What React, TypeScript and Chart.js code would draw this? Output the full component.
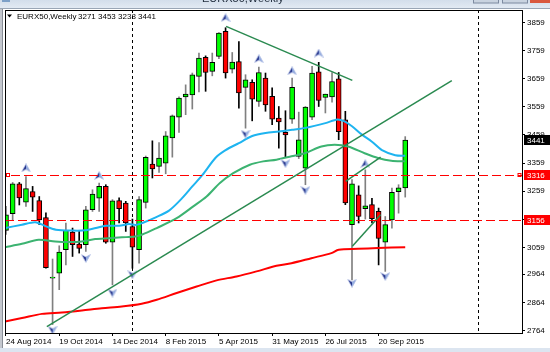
import React, { useEffect, useRef } from 'react';
import { Chart, registerables } from 'chart.js';

Chart.register(...registerables);

// ---------- data ----------
const opens = [3120,3179,3285,3220,3258,3226,3165,2950,2968,3051,3114,3071,3069,3193,3234,3276,3078,3226,3217,3133,3051,3219,3355,3347,3359,3448,3522,3594,3601,3667,3735,3685,3738,3827,3693,3720,3628,3646,3578,3661,3596,3519,3468,3515,3383,3341,3522,3683,3592,3594,3658,3513,3140,3246,3197,3211,3187,3078,3157,3257,3271];
const highs = [3205,3290,3290,3311,3276,3240,3182,3018,3065,3146,3128,3116,3205,3264,3288,3282,3229,3235,3223,3160,3240,3384,3438,3432,3471,3530,3594,3637,3679,3750,3740,3750,3823,3840,3752,3791,3673,3655,3700,3679,3626,3560,3545,3661,3540,3560,3703,3717,3604,3681,3681,3543,3300,3278,3335,3234,3199,3169,3270,3282,3453];
const lows = [3105,3157,3210,3205,3187,3140,2985,2785,2909,2997,3027,3039,3045,3187,3187,3074,2926,3146,3116,2985,3003,3199,3306,3326,3321,3380,3468,3531,3551,3612,3614,3669,3730,3661,3679,3554,3483,3509,3560,3543,3495,3412,3380,3500,3375,3282,3513,3560,3537,3575,3442,3211,2944,3146,3160,3146,2997,2974,3128,3181,3238];
const closes = [3175,3285,3235,3268,3238,3157,2987,2954,3043,3120,3069,3056,3193,3249,3276,3078,3225,3197,3146,3060,3229,3379,3338,3377,3456,3527,3590,3604,3673,3732,3681,3717,3821,3679,3718,3608,3655,3586,3681,3566,3515,3505,3459,3628,3442,3558,3679,3582,3604,3649,3471,3217,3285,3169,3207,3161,3091,3140,3255,3271,3441];

const dateLabels = ['24 Aug 2014','19 Oct 2014','14 Dec 2014','8 Feb 2015','5 Apr 2015','31 May 2015','26 Jul 2015','20 Sep 2015'];
const dateLabelBars = [0, 8, 16, 24, 32, 40, 48, 56];
const priceTicks = [3859, 3759, 3659, 3559, 3459, 3359, 3259, 3159, 3059, 2964, 2864, 2764];

const blueMa: [number, number][] = [[-0.15,3128],[2.4,3140],[4.4,3149],[6,3134],[7.5,3122],[10,3119],[12,3120],[13.5,3128],[15,3136],[17,3136],[18.5,3142],[19.5,3139],[20.5,3146],[22.5,3166],[24.5,3190],[26.3,3230],[28,3276],[29.5,3316],[31.5,3378],[33,3405],[35,3430],[37,3455],[39,3466],[41,3471],[43,3477],[45,3484],[48,3501],[49.8,3514],[50.8,3508],[52,3490],[53.5,3460],[55,3435],[56.5,3405],[58.5,3387],[60,3385]];
const greenMa: [number, number][] = [[-0.15,3060],[2.4,3072],[4.9,3086],[7.4,3080],[9.4,3078],[11.4,3080],[13.4,3089],[15.4,3092],[17.4,3095],[19.4,3098],[20.4,3104],[22.65,3128],[25.65,3163],[28.15,3205],[30.15,3240],[32.15,3288],[34.15,3323],[36.65,3353],[38.65,3365],[40.65,3371],[42.9,3383],[44.9,3394],[47.4,3418],[49.4,3424],[51.4,3418],[53.9,3394],[55.9,3377],[57.9,3367],[60,3365]];
const redMa: [number, number][] = [[-0.15,2796],[2.4,2808],[5.4,2823],[8.4,2828],[11.4,2835],[14.4,2843],[17.4,2849],[20.4,2859],[22.65,2873],[25.65,2897],[28.65,2920],[31.65,2942],[34.65,2956],[37.65,2974],[40.65,2994],[42.9,3003],[45.9,3021],[48.9,3039],[50,3051],[52.9,3054],[55.9,3057],[60,3060]];

const trendLines: [number, number, number, number][] = [
  [6.14, 2778, 67.0, 3652],
  [33.08, 3845, 52.05, 3653],
  [51.05, 3294, 56.3, 3380],
  [52.05, 3063, 56.3, 3175],
];

const upFractalBars = [3, 14, 33, 38, 43, 47, 54];
const upFractalPrices = [3342, 3315, 3876, 3730, 3687, 3750, 3357];
const downFractalBars = [7, 12, 16, 19, 36, 42, 45, 52, 57];
const downFractalPrices = [2765, 3020, 2897, 2962, 3462, 3357, 3262, 2932, 2956];

const levelPrices = [3316, 3156];
const separatorBars = [19, 71];
const lastPrice = 3441;
const titleSymbol = 'EURX50,Weekly';
const titleValues = '3271 3453 3238 3441';

const X_MIN = -0.15;
const X_MAX = 77.55;
const Y_MIN = 2755;
const Y_MAX = 3903;
const FONT = '8px "Liberation Sans", Arial, sans-serif';

function makeArrow(up: boolean): HTMLCanvasElement {
  const c = document.createElement('canvas');
  c.width = 10; c.height = 9;
  const g = c.getContext('2d')!;
  g.save();
  if (!up) { g.translate(0, 9); g.scale(1, -1); }
  g.beginPath();
  g.moveTo(5, 0.5); g.lineTo(9.5, 8.5); g.lineTo(5, 6); g.lineTo(0.5, 8.5); g.closePath();
  g.fillStyle = '#23328a';
  g.fill();
  g.beginPath();
  g.moveTo(5, 0.5); g.lineTo(9.5, 8.5); g.lineTo(5, 6); g.closePath();
  g.fillStyle = '#8fa8de';
  g.fill();
  g.lineWidth = 0.7;
  g.strokeStyle = '#c8d4f0';
  g.beginPath();
  g.moveTo(5, 0.5); g.lineTo(9.5, 8.5); g.lineTo(5, 6); g.lineTo(0.5, 8.5); g.closePath();
  g.stroke();
  g.restore();
  return c;
}

export default function App() {
  const ref = useRef<HTMLCanvasElement | null>(null);

  useEffect(() => {
    if (!ref.current) return;
    const bars = opens.map((_, i) => i);
    const bull = bars.map(i => closes[i] >= opens[i]);

    const overlay = {
      id: 'mt4overlay',
      beforeDraw(chart: any) {
        const { ctx, width, height } = chart;
        ctx.save();
        ctx.fillStyle = '#ffffff';
        ctx.fillRect(0, 0, width, height);
        ctx.restore();
      },
      beforeDatasetsDraw(chart: any) {
        const { ctx, chartArea, scales } = chart;
        ctx.save();
        ctx.strokeStyle = '#000';
        ctx.lineWidth = 1;
        ctx.setLineDash([3, 3]);
        separatorBars.forEach(b => {
          const x = Math.round(scales.x.getPixelForValue(b)) + 0.5;
          ctx.beginPath();
          ctx.moveTo(x, chartArea.top);
          ctx.lineTo(x, chartArea.bottom);
          ctx.stroke();
        });
        ctx.restore();
      },
      afterDatasetsDraw(chart: any) {
        const { ctx, chartArea, scales } = chart;
        ctx.save();
        ctx.strokeStyle = '#ff0000';
        ctx.lineWidth = 1;
        ctx.setLineDash([9, 4]);
        levelPrices.forEach(p => {
          const y = Math.round(scales.y.getPixelForValue(p)) + 0.5;
          ctx.beginPath();
          ctx.moveTo(chartArea.left + (p === levelPrices[0] ? 6 : 0), y);
          ctx.lineTo(chartArea.right, y);
          ctx.stroke();
        });
        ctx.setLineDash([]);
        const y0 = Math.round(scales.y.getPixelForValue(levelPrices[0])) + 0.5;
        ctx.strokeRect(chartArea.left + 1.5, y0 - 2, 3, 3);
        ctx.strokeRect(chartArea.right - 4, y0 - 2, 3, 3);
        ctx.restore();
      },
      afterDraw(chart: any) {
        const { ctx, chartArea, scales, width, height } = chart;
        ctx.save();
        // plot border
        ctx.strokeStyle = '#000';
        ctx.lineWidth = 1;
        ctx.strokeRect(chartArea.left + 0.5, chartArea.top + 0.5, chartArea.right - chartArea.left, chartArea.bottom - chartArea.top);
        // window chrome: top strip
        const grd = ctx.createLinearGradient(0, 0, 0, 9);
        grd.addColorStop(0, '#d3deeb');
        grd.addColorStop(1, '#e4ebf4');
        ctx.fillStyle = grd;
        ctx.fillRect(0, 0, width, 9);
        ctx.fillStyle = '#9aa6b6';
        ctx.fillRect(0, 8, width, 1);
        ctx.fillStyle = '#1e2a3a';
        ctx.font = '11px "Liberation Sans", Arial, sans-serif';
        ctx.textBaseline = 'alphabetic';
        ctx.textAlign = 'left';
        ctx.fillText(titleSymbol, 202, 2);
        // window buttons
        ctx.fillStyle = '#c9d3e0';
        ctx.fillRect(473, 0, 25, 3);
        ctx.fillRect(502, 0, 25, 3);
        ctx.strokeStyle = '#7d8aa0';
        ctx.strokeRect(473.5, -1, 25, 4);
        ctx.strokeRect(502.5, -1, 25, 4);
        ctx.fillStyle = '#d9583e';
        ctx.fillRect(530, 0, 20, 3);
        // icon
        ctx.fillStyle = '#7da0c8';
        ctx.fillRect(2, 0, 8, 2);
        // left strip
        ctx.fillStyle = '#c4c8cf';
        ctx.fillRect(0, 9, 2, height - 9);
        ctx.fillStyle = '#8a8f98';
        ctx.fillRect(2, 9, 1, height - 9);
        // bottom strip
        ctx.fillStyle = '#dce5f0';
        ctx.fillRect(0, 348, width, height - 348);
        // title inside chart
        ctx.fillStyle = '#000';
        ctx.beginPath();
        ctx.moveTo(7, 14.5); ctx.lineTo(12, 14.5); ctx.lineTo(9.5, 17.5); ctx.closePath();
        ctx.fill();
        ctx.font = FONT;
        ctx.textBaseline = 'middle';
        ctx.fillText(titleSymbol, 17, 16.5);
        ctx.fillText(titleValues, 78, 16.5);
        // price boxes
        const boxes: [number, string][] = [[lastPrice, '#000000'], [levelPrices[0], '#ff0000'], [levelPrices[1], '#ff0000']];
        boxes.forEach(([p, col]) => {
          const y = Math.round(scales.y.getPixelForValue(p));
          ctx.fillStyle = col;
          ctx.fillRect(chartArea.right + 2, y - 5, width - chartArea.right - 2, 10);
          ctx.fillStyle = '#ffffff';
          ctx.fillText(String(p), chartArea.right + 5, y + 0.5);
        });
        ctx.restore();
      },
    };

    const chart = new Chart(ref.current, {
      type: 'bar',
      data: {
        datasets: [
          ...trendLines.map(t => ({
            type: 'line' as const,
            data: [{ x: t[0], y: t[1] }, { x: t[2], y: t[3] }],
            borderColor: '#2a8a50',
            borderWidth: 1.5,
            pointRadius: 0,
            order: 0,
          })),
          {
            type: 'scatter' as const,
            data: upFractalBars.map((b, i) => ({ x: b, y: upFractalPrices[i] })),
            pointStyle: makeArrow(true),
            order: 0,
          },
          {
            type: 'scatter' as const,
            data: downFractalBars.map((b, i) => ({ x: b, y: downFractalPrices[i] })),
            pointStyle: makeArrow(false),
            order: 0,
          },
          {
            type: 'line' as const,
            data: blueMa.map(([x, y]) => ({ x, y })),
            borderColor: '#1eb4f0',
            borderWidth: 2,
            pointRadius: 0,
            tension: 0.3,
            order: 1,
          },
          {
            type: 'line' as const,
            data: greenMa.map(([x, y]) => ({ x, y })),
            borderColor: '#3cb371',
            borderWidth: 2,
            pointRadius: 0,
            tension: 0.3,
            order: 1,
          },
          {
            type: 'line' as const,
            data: redMa.map(([x, y]) => ({ x, y })),
            borderColor: '#ff0000',
            borderWidth: 2,
            pointRadius: 0,
            tension: 0.3,
            order: 1,
          },
          {
            type: 'bar' as const,
            data: bars.map(i => ({ x: i, y: [opens[i], closes[i]] })),
            backgroundColor: bars.map(i => (bull[i] ? '#00ff00' : '#ff0000')),
            borderColor: '#000000',
            borderWidth: 1,
            borderSkipped: false,
            barThickness: 5,
            grouped: false,
            order: 2,
          },
          {
            type: 'bar' as const,
            data: bars.map(i => ({ x: i, y: [lows[i], highs[i]] })),
            backgroundColor: bars.map(i => (bull[i] ? '#808080' : '#000000')),
            borderWidth: 0,
            barThickness: 1,
            grouped: false,
            order: 3,
          },
        ] as any,
      },
      options: {
        responsive: false,
        animation: false,
        devicePixelRatio: 1,
        layout: { padding: { left: 3, top: 10, right: 0, bottom: 0 } },
        plugins: { legend: { display: false }, tooltip: { enabled: false } },
        events: [],
        scales: {
          x: {
            type: 'linear',
            min: X_MIN,
            max: X_MAX,
            offset: false,
            afterBuildTicks: (scale: any) => { scale.ticks = dateLabelBars.map(v => ({ value: v })); },
            afterFit: (scale: any) => { scale.height = 19; },
            grid: { drawOnChartArea: false, drawTicks: true, tickLength: 3, color: '#000', offset: false },
            border: { display: true, color: '#000' },
            ticks: {
              autoSkip: false,
              maxRotation: 0,
              align: 'start',
              padding: 1,
              color: '#000',
              font: { family: '"Liberation Sans", Arial, sans-serif', size: 8 },
              callback: (v: any) => dateLabels[dateLabelBars.indexOf(Number(v))] ?? '',
            },
          },
          y: {
            type: 'linear',
            position: 'right',
            min: Y_MIN,
            max: Y_MAX,
            afterBuildTicks: (scale: any) => { scale.ticks = priceTicks.map(v => ({ value: v })); },
            afterFit: (scale: any) => { scale.width = 28; },
            grid: { drawOnChartArea: false, drawTicks: true, tickLength: 3, color: '#000' },
            border: { display: true, color: '#000' },
            ticks: {
              autoSkip: false,
              padding: 2,
              color: '#000',
              font: { family: '"Liberation Sans", Arial, sans-serif', size: 8 },
              callback: (v: any) => String(v),
            },
          },
        },
      } as any,
      plugins: [overlay],
    });
    return () => chart.destroy();
  }, []);

  return (
    <div style={{ position: 'fixed', left: 0, top: 0, width: 550, height: 352 }}>
      <canvas ref={ref} width={550} height={352} style={{ display: 'block' }} />
    </div>
  );
}
